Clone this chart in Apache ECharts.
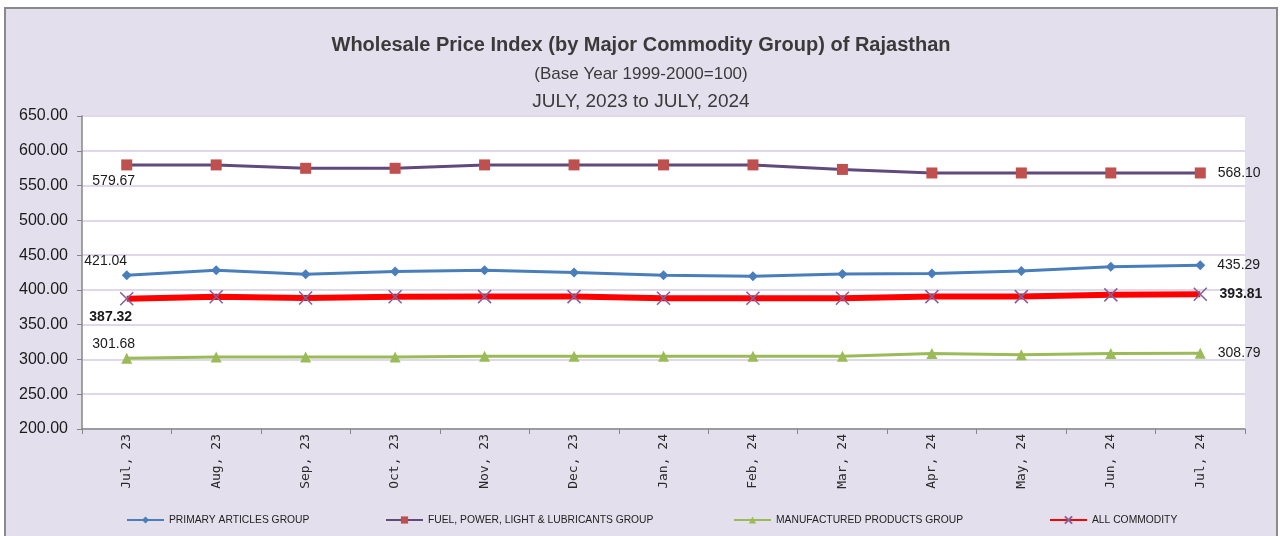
<!DOCTYPE html>
<html>
<head>
<meta charset="utf-8">
<script src="https://cdn.jsdelivr.net/npm/echarts@6/dist/echarts.min.js"></script>
<style>
  html, body { margin: 0; padding: 0; background: #ffffff; }
  #chart { width: 1282px; height: 536px; }
</style>
</head>
<body>
<div id="chart"></div>
<script>
const categories = ['Jul, 23','Aug, 23','Sep, 23','Oct, 23','Nov, 23','Dec, 23','Jan, 24','Feb, 24','Mar, 24','Apr, 24','May, 24','Jun, 24','Jul, 24'];
const primaryArticles = [421.04, 428.3, 422.5, 426.6, 428.3, 425.0, 421.2, 419.7, 422.8, 423.5, 427.0, 433.4, 435.29];
const fuelPower = [579.67, 579.67, 574.8, 574.8, 579.7, 579.7, 579.7, 579.7, 573.2, 568.10, 568.10, 568.10, 568.10];
const manufactured = [301.68, 303.4, 303.4, 303.4, 304.6, 304.6, 304.6, 304.6, 304.6, 308.5, 306.9, 308.6, 308.79];
const allCommodity = [387.32, 390.2, 388.3, 390.2, 390.4, 390.4, 388.0, 388.0, 388.0, 390.4, 390.4, 392.9, 393.81];
const yTicks = { min: 200, max: 650, step: 50 };

const seriesNames = ['PRIMARY ARTICLES GROUP', 'FUEL, POWER, LIGHT & LUBRICANTS GROUP', 'MANUFACTURED PRODUCTS GROUP', 'ALL COMMODITY'];

const labelFont = { fontFamily: 'Liberation Sans, Arial, sans-serif', fontSize: 14, color: '#1a1a1a' };

function withEndLabels(values, firstPos, firstOffset, bold) {
  const last = values.length - 1;
  return values.map((v, i) => {
    if (i === 0) {
      return { value: v, label: Object.assign({ show: true, position: firstPos, offset: firstOffset, distance: 4, fontWeight: bold ? 'bold' : 'normal', formatter: (p) => p.value.toFixed(2) }, labelFont) };
    }
    if (i === last) {
      return { value: v, label: Object.assign({ show: true, position: 'right', distance: 12, fontWeight: bold ? 'bold' : 'normal', formatter: (p) => p.value.toFixed(2) }, labelFont) };
    }
    return v;
  });
}

const chart = echarts.init(document.getElementById('chart'), null, { renderer: 'canvas' });

const titleColor = '#3a3a3a';
const legendText = { fontFamily: 'Liberation Sans, Arial, sans-serif', fontSize: 10.3, color: '#222' };

function legendAt(name, left) {
  return {
    data: [name], left: left, top: 515, padding: 0, itemWidth: 37, itemHeight: 9, itemGap: 4,
    textStyle: legendText, selectedMode: false
  };
}

const option = {
  animation: false,
  backgroundColor: '#ffffff',
  graphic: [{
    type: 'rect', z: -100, silent: true,
    shape: { x: 5, y: 8, width: 1272, height: 540 },
    style: { fill: '#E4DFEC', stroke: '#8a8a8a', lineWidth: 2 }
  }],
  title: [
    { text: 'Wholesale Price Index (by Major Commodity Group) of Rajasthan', left: 'center', top: 30,
      textStyle: { fontFamily: 'Liberation Sans, Arial, sans-serif', fontWeight: 'bold', fontSize: 20, color: titleColor } },
    { text: '(Base Year 1999-2000=100)', left: 'center', top: 61,
      textStyle: { fontFamily: 'Liberation Sans, Arial, sans-serif', fontWeight: 'normal', fontSize: 17, color: titleColor } },
    { text: 'JULY, 2023 to JULY, 2024', left: 'center', top: 87,
      textStyle: { fontFamily: 'Liberation Sans, Arial, sans-serif', fontWeight: 'normal', fontSize: 19, color: titleColor } }
  ],
  legend: [
    legendAt(seriesNames[0], 126),
    legendAt(seriesNames[1], 385),
    legendAt(seriesNames[2], 733),
    legendAt(seriesNames[3], 1049)
  ],
  grid: { left: 82, right: 37, top: 116, bottom: 107, show: true, backgroundColor: '#ffffff', borderWidth: 0 },
  xAxis: {
    type: 'category', data: categories, boundaryGap: true,
    axisLine: { show: true, lineStyle: { color: '#868686', width: 1.5 } },
    axisTick: { show: true, alignWithLabel: false, length: 5, lineStyle: { color: '#868686' } },
    axisLabel: { rotate: 90, margin: 5, fontFamily: 'DejaVu Sans Mono, monospace', fontSize: 13, color: '#2a2a2a' },
    splitLine: { show: false }
  },
  yAxis: {
    type: 'value', min: yTicks.min, max: yTicks.max, interval: yTicks.step,
    axisLine: { show: true, lineStyle: { color: '#868686', width: 1.5 } },
    axisTick: { show: true, length: 5, lineStyle: { color: '#868686' } },
    axisLabel: { margin: 14, fontFamily: 'Liberation Sans, Arial, sans-serif', fontSize: 16, color: '#1a1a1a', formatter: (v) => v.toFixed(2) },
    splitLine: { show: true, lineStyle: { color: '#DED8EA', width: 2 } }
  },
  series: [
    {
      name: seriesNames[0], type: 'line', data: withEndLabels(primaryArticles, 'top', [-21, 2], false),
      symbol: 'diamond', symbolSize: 10,
      lineStyle: { color: '#4A7EBB', width: 3 }, itemStyle: { color: '#4A7EBB' }, z: 3
    },
    {
      name: seriesNames[1], type: 'line', data: withEndLabels(fuelPower, 'bottom', [-13, 0], false),
      symbol: 'rect', symbolSize: 11,
      lineStyle: { color: '#604A7B', width: 3 }, itemStyle: { color: '#C0504D' }, z: 3
    },
    {
      name: seriesNames[2], type: 'line', data: withEndLabels(manufactured, 'top', [-13, 2], false),
      symbol: 'triangle', symbolSize: 11,
      lineStyle: { color: '#9BBB59', width: 3 }, itemStyle: { color: '#9BBB59' }, z: 3
    },
    {
      name: seriesNames[3], type: 'line', data: withEndLabels(allCommodity, 'bottom', [-16, 0], true),
      symbol: 'path://M0,0L10,10M10,0L0,10', symbolSize: 13,
      lineStyle: { color: '#FF0000', width: 6 },
      itemStyle: { color: 'rgba(0,0,0,0)', borderColor: '#8064A2', borderWidth: 1.6 }, z: 4
    }
  ]
};

chart.setOption(option);
</script>
</body>
</html>
